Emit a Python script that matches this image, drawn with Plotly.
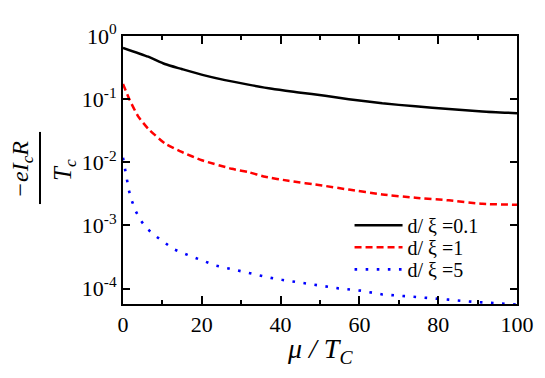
import plotly.graph_objects as go

mu_black = [0, 6.4, 10.6, 14.9, 20.4, 25.9, 31.8, 37.8, 44.6, 51.3, 57.3, 65.8, 74.2, 82.7, 91.2, 100]
y_black = [0.65, 0.47, 0.36, 0.30, 0.24, 0.20, 0.17, 0.146, 0.128, 0.113, 0.100, 0.086, 0.077, 0.070, 0.064, 0.060]

mu_red = [0, 1.7, 3.8, 6.4, 10.6, 14.9, 20, 27.6, 31.8, 36.1, 42, 50.5, 57.3, 65.8, 74.2, 82.7, 91.2, 100]
y_red = [0.174, 0.097, 0.054, 0.034, 0.020, 0.0146, 0.0108, 0.0079, 0.0070, 0.0059, 0.0051, 0.0043,
         0.0037, 0.0031, 0.00275, 0.0025, 0.0022, 0.00213]

mu_blue = [0, 0.5, 1.0, 1.5, 2.2, 3.2, 4.5, 6.1, 8.3, 10.4, 12.9, 15.5, 18.3, 20.8, 23.5, 26.5, 29.3,
           31.8, 34.6, 37.5, 40.3, 43.3, 46.1, 48.8, 51.8, 54.7, 60.3, 65.8, 71.7, 77.2, 82.7, 88.7, 94.6, 100]
y_blue = [0.0118, 0.0079, 0.0052, 0.0036, 0.0025, 0.0017, 0.0012, 0.00089, 0.00068, 0.00054, 0.00042,
          0.00036, 0.00031, 0.000273, 0.000232, 0.000211, 0.000193, 0.000175, 0.000159, 0.000148,
          0.000138, 0.000129, 0.000122, 0.000114, 0.000108, 0.000101, 9.3e-5, 8.1e-5, 7.6e-5, 7.2e-5,
          6.7e-5, 6.2e-5, 5.8e-5, 5.6e-5]

names = ["d/ \u03be =0.1", "d/ \u03be =1", "d/ \u03be =5"]
x_ticks = [0, 20, 40, 60, 80, 100]
x_minor = [10, 30, 50, 70, 90]
y_tickvals = [1, 0.1, 0.01, 0.001, 0.0001]
y_ticktext = ["10<sup>0</sup>", "10<sup>-1</sup>", "10<sup>-2</sup>", "10<sup>-3</sup>", "10<sup>-4</sup>"]

FONT = "Liberation Serif, Times New Roman, DejaVu Serif, serif"

fig = go.Figure()
fig.add_trace(go.Scatter(x=mu_black, y=y_black, mode="lines", name=names[0], legend="legend",
                         line=dict(color="black", width=2.5, shape="spline", smoothing=0.6)))
fig.add_trace(go.Scatter(x=mu_red, y=y_red, mode="lines", name=names[1], legend="legend2",
                         line=dict(color="#ff0000", width=2.5, dash="7px,4px",
                                   shape="spline", smoothing=0.5)))
fig.add_trace(go.Scatter(x=mu_blue, y=y_blue, mode="lines", name=names[2], legend="legend3",
                         line=dict(color="#0000ff", width=2.6, dash="2.6px,8.5px")))

axis_common = dict(showline=True, linecolor="black", linewidth=2, mirror="ticks",
                   ticks="inside", tickcolor="black", tickwidth=1.5, showgrid=False,
                   zeroline=False, tickfont=dict(family=FONT, size=22, color="black"))

fig.update_xaxes(range=[0, 100], tickvals=x_ticks, ticklen=8,
                 minor=dict(ticks="inside", tickvals=x_minor, ticklen=4,
                            tickcolor="black", tickwidth=1.5),
                 **axis_common)
fig.update_yaxes(type="log", range=[-4.243, 0], tickvals=y_tickvals, ticktext=y_ticktext,
                 ticklen=7, **axis_common)

leg = dict(xanchor="left", yanchor="middle", bgcolor="rgba(0,0,0,0)",
           font=dict(family=FONT, size=20, color="black"), itemwidth=48)
# plot area: 394 x 279 px
fig.update_layout(
    width=545, height=378,
    margin=dict(l=115, r=36, t=17, b=82),
    paper_bgcolor="white", plot_bgcolor="white",
    showlegend=True,
    legend=dict(x=0.575, y=(304 - 222) / 279, **leg),
    legend2=dict(x=0.575, y=(304 - 245) / 279, **leg),
    legend3=dict(x=0.575, y=(304 - 268) / 279, **leg),
    font=dict(family=FONT, color="black"),
)

# y-axis title as a fraction
fig.add_annotation(xref="paper", yref="paper", x=-0.256, y=0.50, xanchor="center", yanchor="middle",
                   text="<i>\u2212eI<sub>c</sub>R</i>", textangle=-90, showarrow=False,
                   font=dict(family=FONT, size=24, color="black"))
fig.add_annotation(xref="paper", yref="paper", x=-0.150, y=0.50, xanchor="center", yanchor="middle",
                   text="<i>T<sub>c</sub></i>", textangle=-90, showarrow=False,
                   font=dict(family=FONT, size=25, color="black"))
fig.add_shape(type="line", xref="paper", yref="paper", x0=-0.2107, x1=-0.2107, y0=0.373, y1=0.642,
              line=dict(color="black", width=2))

# x-axis title
fig.add_annotation(xref="paper", yref="paper", x=0.5, y=-0.172, xanchor="center", yanchor="middle",
                   text="<i>\u03bc / T<sub>C</sub></i>", showarrow=False,
                   font=dict(family=FONT, size=28, color="black"))

fig.write_html("out.html")
